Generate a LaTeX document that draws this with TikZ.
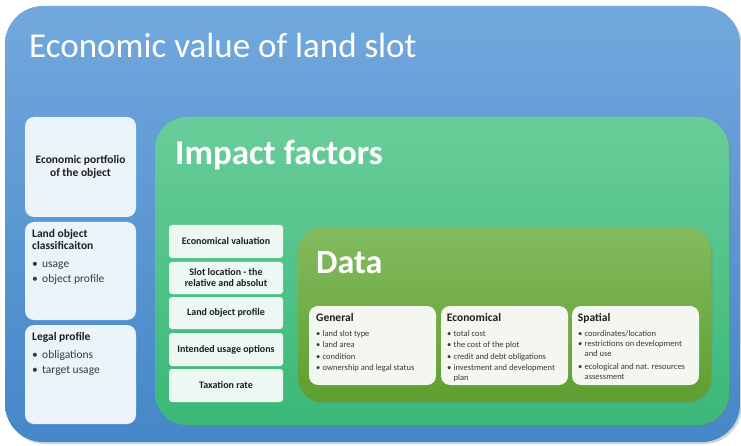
\documentclass[tikz,border=0pt]{standalone}
\usepackage{fontspec}
\setmainfont{Carlito}
\usetikzlibrary{shadows}
\definecolor{bluetop}{HTML}{72A8DD}
\definecolor{bluebot}{HTML}{4587C8}
\definecolor{greentop}{HTML}{69CD9A}
\definecolor{greenbot}{HTML}{3AB878}
\definecolor{datatop}{HTML}{83BB5F}
\definecolor{databot}{HTML}{5F9E30}
\definecolor{leftbox}{HTML}{EBF3FB}
\definecolor{impbox}{HTML}{EDF8F2}
\definecolor{datbox}{HTML}{F3F7EF}
\definecolor{ink}{HTML}{1E1E1E}
\definecolor{ink2}{HTML}{3A3A3A}
\newcommand\bul[1]{\makebox[#1][l]{\textbullet}}
\begin{document}
\begin{tikzpicture}[x=1pt,y=-1pt,
  panel/.style={draw=none, anchor=north west, inner sep=0pt, outer sep=0pt},
  outerpanel/.style={panel, rounded corners=38pt, top color=bluetop, bottom color=bluebot,
     drop shadow={opacity=0.35, shadow xshift=2pt, shadow yshift=-2pt}},
  greenpanel/.style={panel, rounded corners=32pt, top color=greentop, bottom color=greenbot,
     drop shadow={opacity=0.35, shadow xshift=1.5pt, shadow yshift=-1.5pt}},
  datapanel/.style={panel, rounded corners=24pt, top color=datatop, bottom color=databot,
     drop shadow={opacity=0.35, shadow xshift=1.5pt, shadow yshift=-1.5pt}},
  leftcard/.style={panel, rounded corners=9pt, fill=leftbox},
  impcard/.style={panel, rounded corners=3pt, fill=impbox, minimum width=114pt},
  datcard/.style={panel, rounded corners=9pt, fill=datbox, minimum width=127pt, minimum height=79pt},
  bigtitle/.style={anchor=base west, inner sep=0pt, text=white},
  lhead/.style={anchor=base west, inner sep=0pt, text=ink, font=\fontsize{11.5}{12.3}\selectfont\bfseries},
  litem/.style={anchor=base west, inner sep=0pt, text=ink2, font=\fontsize{11.5}{12.3}\selectfont},
  imptext/.style={inner sep=0pt, text=ink, align=center, font=\fontsize{10}{11}\selectfont\bfseries},
  dhead/.style={anchor=base west, inner sep=0pt, text=ink, font=\fontsize{11.5}{12}\selectfont\bfseries},
  ditem/.style={anchor=base west, inner sep=0pt, text=ink2, font=\fontsize{8.5}{10}\selectfont},
]
\useasboundingbox (0,0) rectangle (741,446);
% outer panel
\node[outerpanel, minimum width=735pt, minimum height=436pt] (outer) at (5,6) {};
\node[bigtitle, font=\fontsize{35}{40}\selectfont] (title) at (29,58) {Economic value of land slot};
% left cards
\node[leftcard, minimum width=111pt, minimum height=100pt] (lb1) at (25,117) {};
\node[leftcard, minimum width=111pt, minimum height=98pt] (lb2) at (25,222) {};
\node[leftcard, minimum width=111pt, minimum height=99pt] (lb3) at (25,325) {};
\node[inner sep=0pt, text=ink, align=center, font=\fontsize{11.5}{12.4}\selectfont\bfseries] (lb1t) at (lb1.center) {Economic portfolio\\of the object};
\node[lhead] (lb2h1) at (32,237.7) {Land object};
\node[lhead] (lb2h2) at (32,250) {classificaiton};
\node[litem] (lb2i1) at (32,267.5) {\bul{10pt}usage};
\node[litem] (lb2i2) at (32,282.7) {\bul{10pt}object profile};
\node[lhead] (lb3h) at (32,340.7) {Legal profile};
\node[litem] (lb3i1) at (32,358.3) {\bul{10pt}obligations};
\node[litem] (lb3i2) at (32,373.3) {\bul{10pt}target usage};
% green panel
\node[greenpanel, minimum width=574pt, minimum height=308pt] (green) at (155,117) {};
\node[bigtitle, font=\fontsize{35}{40}\selectfont\bfseries] (imptitle) at (175,165) {Impact factors};
% impact cards
\node[impcard, minimum height=33pt] (ib1) at (169,225) {};
\node[impcard, minimum height=32pt] (ib2) at (169,262) {};
\node[impcard, minimum height=32pt] (ib3) at (169,297) {};
\node[impcard, minimum height=33pt] (ib4) at (169,333) {};
\node[impcard, minimum height=33pt] (ib5) at (169,369) {};
\node[imptext] (ib1t) at (ib1.center) {Economical valuation};
\node[imptext] (ib2t) at (ib2.center) {Slot location - the\\relative and absolut};
\node[imptext] (ib3t) at (ib3.center) {Land object profile};
\node[imptext] (ib4t) at (ib4.center) {Intended usage options};
\node[imptext] (ib5t) at (ib5.center) {Taxation rate};
% data panel
\node[datapanel, minimum width=413pt, minimum height=175pt] (data) at (298,227) {};
\node[bigtitle, font=\fontsize{34}{40}\selectfont\bfseries] (datatitle) at (316,273) {Data};
\node[datcard] (gen) at (309,306) {};
\node[datcard] (eco) at (441,306) {};
\node[datcard] (spa) at (572,306) {};
% General
\node[dhead] (genh) at (316,321.7) {General};
\node[ditem] (gen1) at (316,336.3) {\bul{6.5pt}land slot type};
\node[ditem] (gen2) at (316,347.5) {\bul{6.5pt}land area};
\node[ditem] (gen3) at (316,359) {\bul{6.5pt}condition};
\node[ditem] (gen4) at (316,370.7) {\bul{6.5pt}ownership and legal status};
% Economical
\node[dhead] (ecoh) at (446.7,321.7) {Economical};
\node[ditem] (eco1) at (447,336.3) {\bul{6.5pt}total cost};
\node[ditem] (eco2) at (447,347.5) {\bul{6.5pt}the cost of the plot};
\node[ditem] (eco3) at (447,359) {\bul{6.5pt}credit and debt obligations};
\node[ditem] (eco4) at (447,370.7) {\bul{6.5pt}investment and development};
\node[ditem] (eco5) at (447,380.7) {\hspace*{6.5pt}plan};
% Spatial
\node[dhead] (spah) at (577.7,321.7) {Spatial};
\node[ditem] (spa1) at (578,336.3) {\bul{6.5pt}coordinates/location};
\node[ditem] (spa2) at (578,346.7) {\bul{6.5pt}restrictions on development};
\node[ditem] (spa3) at (578,356.7) {\hspace*{6.5pt}and use};
\node[ditem] (spa4) at (578,369.5) {\bul{6.5pt}ecological and nat. resources};
\node[ditem] (spa5) at (578,379.3) {\hspace*{6.5pt}assessment};
\end{tikzpicture}
\end{document}
